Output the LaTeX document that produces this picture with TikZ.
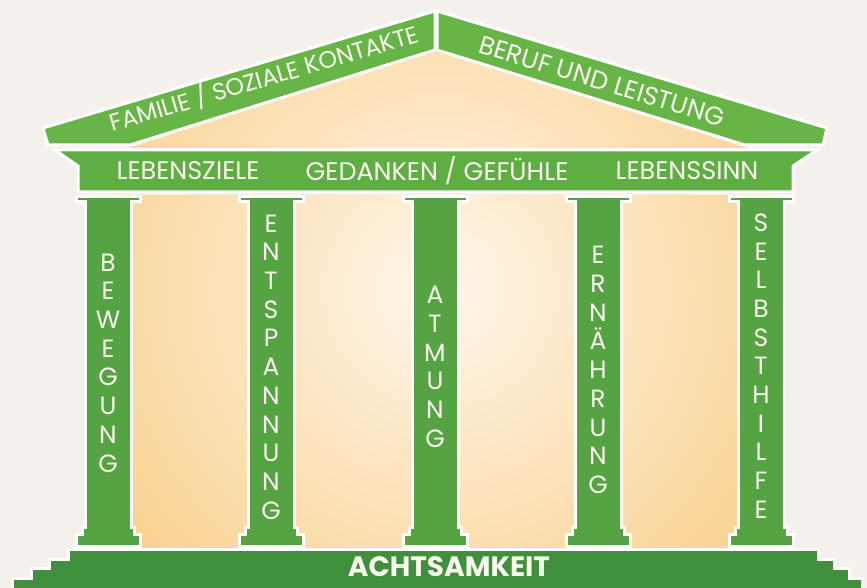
\documentclass[tikz,border=0pt]{standalone}
\usepackage{fontspec}
\setmainfont{Poppins}
\usepackage{tikz}

\definecolor{bgcol}{HTML}{F4F1EC}
\definecolor{roofgreen}{HTML}{66B546}
\definecolor{friezegreen}{HTML}{5EAE43}
\definecolor{colgreen}{HTML}{56A343}
\definecolor{basegreen}{HTML}{3F8F3C}
\definecolor{beigelight}{HTML}{FEF6EA}
\definecolor{beigedark}{HTML}{F8CB7E}
\definecolor{lettercol}{HTML}{FAF8EE}

\begin{document}
\begin{tikzpicture}[
  x=1pt, y=-1pt,
  greenpart/.style={draw=white, line width=3pt},
  caps/.style={text=lettercol, font=\fontsize{25.5}{25.5}\selectfont, inner sep=0pt},
  colword/.style={text=lettercol, align=center, font=\fontsize{25}{28.7}\selectfont, inner sep=0pt}
]
% background
\fill[bgcol] (0,0) rectangle (867,588);
\useasboundingbox (0,0) rectangle (867,588);

% warm glow behind the columns and in the gable
\begin{scope}
  \clip (128,148) -- (436,50) -- (748,148) -- cycle
        (95,195) rectangle (775,548);
  \shade[inner color=beigelight, outer color=beigedark] (440,290) circle (480);
\end{scope}

% steps
\fill[basegreen, greenpart] (68,549) -- (818,549) -- (818,559) -- (834,559) -- (834,568)
  -- (849,568) -- (849,578) -- (862,578) -- (862,592) -- (12,592) -- (12,578)
  -- (31,578) -- (31,568) -- (49,568) -- (49,559) -- (68,559) -- cycle;
\node[caps, font=\fontsize{28}{28}\selectfont\bfseries] (achtsamkeit) at (449,567) {ACHTSAMKEIT};

% columns
\foreach \cx/\cy/\name/\word in {
    108/363/bewegung/{B\\E\\W\\E\\G\\U\\N\\G},
    271/367/entspannung/{E\\N\\T\\S\\P\\A\\N\\N\\U\\N\\G},
    435/367/atmung/{A\\T\\M\\U\\N\\G},
    598/370/ernaehrung/{E\\R\\N\\Ä\\H\\R\\U\\N\\G},
    761/366/selbsthilfe/{S\\E\\L\\B\\S\\T\\H\\I\\L\\F\\E}} {
  \fill[colgreen, greenpart] (\cx-32,197) -- (\cx+32,197) -- (\cx+32,202) -- (\cx+23,202)
    -- (\cx+23,527) -- (\cx+26,527) -- (\cx+26,534) -- (\cx+32,534) -- (\cx+32,546)
    -- (\cx-32,546) -- (\cx-32,534) -- (\cx-26,534) -- (\cx-26,527) -- (\cx-23,527)
    -- (\cx-23,202) -- (\cx-32,202) -- cycle;
  \node[colword] (\name) at (\cx,\cy) {\word};
}

% frieze
\fill[friezegreen, greenpart] (55,150) -- (817,150) -- (793,166) -- (793,192)
  -- (78,192) -- (78,166) -- cycle;
\node[caps] (lebensziele) at (188,171) {LEBENSZIELE};
\node[caps] (gedanken) at (437,171) {GEDANKEN / GEFÜHLE};
\node[caps] (lebenssinn) at (687,171) {LEBENSSINN};

% gable
\fill[roofgreen, greenpart] (43,128) -- (435,11) -- (435,50) -- (130,145) -- (48,145) -- cycle;
\fill[roofgreen, greenpart] (437,11) -- (827,128) -- (823,145) -- (745,145) -- (437,50) -- cycle;
\node[caps, font=\fontsize{23.8}{23.8}\selectfont, rotate=16.3] (familie) at (264,78) {FAMILIE / SOZIALE KONTAKTE};
\node[caps, rotate=-17] (beruf) at (602,81) {BERUF UND LEISTUNG};
\end{tikzpicture}
\end{document}
